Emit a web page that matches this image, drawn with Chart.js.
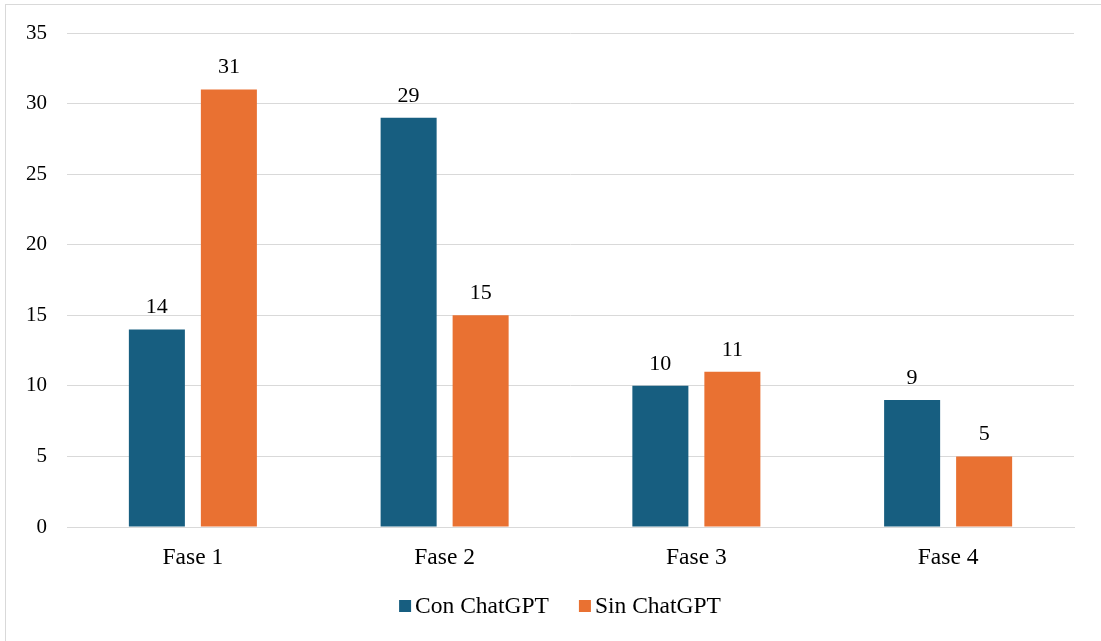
<!DOCTYPE html>
<html>
<head>
<meta charset="utf-8">
<script src="https://cdn.jsdelivr.net/npm/chart.js"></script>
<style>
  html, body { margin: 0; padding: 0; background: #fff; }
  #wrap { position: relative; width: 1101px; height: 641px; overflow: hidden; }
  #frame { position: absolute; left: 5px; top: 4px; width: 1200px; height: 700px;
           border-left: 1px solid #d9d9d9; border-top: 1px solid #d9d9d9; }
  canvas { position: absolute; left: 0; top: 0; }
</style>
</head>
<body>
<div id="wrap">
  <div id="frame"></div>
  <canvas id="grafico" width="1101" height="641"></canvas>
</div>
<script>
const categorias = ['Fase 1', 'Fase 2', 'Fase 3', 'Fase 4'];
const conChatGPT = [14, 29, 10, 9];
const sinChatGPT = [31, 15, 11, 5];
const yTicks = [0, 5, 10, 15, 20, 25, 30, 35];

const fuente = '"Liberation Serif", "Times New Roman", serif';

// etiquetas de valor encima de cada barra
const etiquetas = {
  id: 'etiquetas',
  afterDatasetsDraw(chart) {
    const ctx = chart.ctx;
    ctx.save();
    ctx.font = '22px ' + fuente;
    ctx.fillStyle = '#000';
    ctx.textAlign = 'center';
    ctx.textBaseline = 'alphabetic';
    chart.data.datasets.forEach((ds, i) => {
      chart.getDatasetMeta(i).data.forEach((bar, j) => {
        ctx.fillText(String(ds.data[j]), bar.x, bar.y - 16);
      });
    });
    ctx.restore();
  }
};

// leyenda propia: cuadro pegado al texto, como en el original
const leyenda = {
  id: 'leyenda',
  afterDraw(chart) {
    const ctx = chart.ctx;
    const caja = 12, sep = 4, entre = 30;
    ctx.save();
    ctx.font = '23.5px ' + fuente;
    ctx.textBaseline = 'middle';
    ctx.textAlign = 'left';
    const items = chart.data.datasets.map(ds => ({
      texto: ds.label, color: ds.backgroundColor, ancho: ctx.measureText(ds.label).width
    }));
    const total = items.reduce((a, it) => a + caja + sep + it.ancho, 0) + entre * (items.length - 1);
    let x = 560 - total / 2;
    const y = 606;
    items.forEach(it => {
      ctx.fillStyle = it.color;
      ctx.fillRect(x, y - caja / 2, caja, caja);
      x += caja + sep;
      ctx.fillStyle = '#000';
      ctx.fillText(it.texto, x, y + 1);
      x += it.ancho + entre;
    });
    ctx.restore();
  }
};

new Chart(document.getElementById('grafico').getContext('2d'), {
  type: 'bar',
  data: {
    labels: categorias,
    datasets: [
      { label: 'Con ChatGPT', data: conChatGPT, backgroundColor: '#175e80' },
      { label: 'Sin ChatGPT', data: sinChatGPT, backgroundColor: '#e97132' }
    ]
  },
  options: {
    responsive: false,
    animation: false,
    devicePixelRatio: 1,
    categoryPercentage: 0.572,
    barPercentage: 0.778,
    layout: { padding: { top: 33, right: 27, bottom: 64, left: 0 } },
    plugins: {
      legend: { display: false },
      tooltip: { enabled: false }
    },
    scales: {
      x: {
        grid: { display: false, drawTicks: false },
        border: { display: true, color: '#d9d9d9', width: 1 },
        ticks: { font: { family: fuente, size: 23.5 }, color: '#000', padding: 17 },
        afterFit(s) { s.height = 50; }
      },
      y: {
        min: 0,
        max: 35,
        afterBuildTicks(s) { s.ticks = yTicks.map(v => ({ value: v })); },
        grid: { color: '#d9d9d9', lineWidth: 1, drawTicks: false },
        border: { display: false },
        ticks: { font: { family: fuente, size: 21 }, color: '#000', padding: 20 },
        afterFit(s) { s.width = 67; }
      }
    }
  },
  plugins: [etiquetas, leyenda]
});
</script>
</body>
</html>
